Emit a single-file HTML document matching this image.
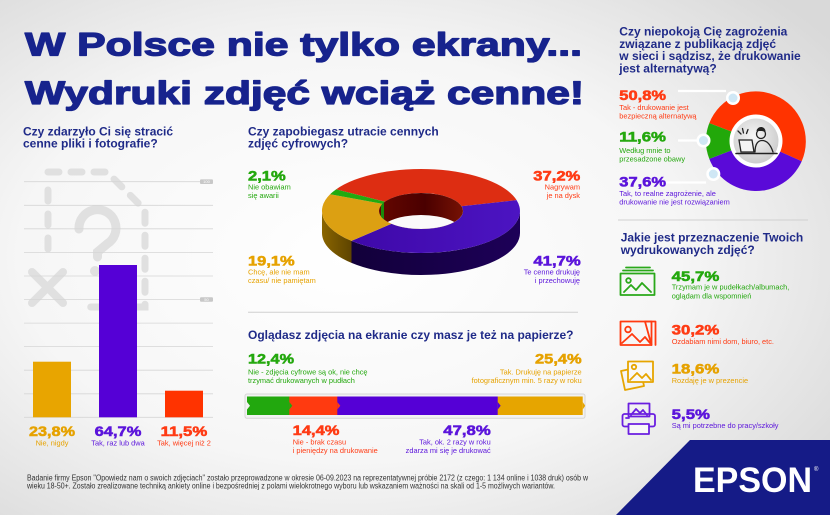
<!DOCTYPE html>
<html><head><meta charset="utf-8"><style>
html,body{margin:0;padding:0;background:#f4f4f4;}
svg{display:block;}
text{font-family:"Liberation Sans",Arial,sans-serif;}
.q{font-size:12px;font-weight:bold;fill:#1f2a88;}
.p{font-size:14px;font-weight:bold;stroke-width:0.55;}
.s{font-size:7.4px;}
.g{fill:#24a80e;stroke:#24a80e;}
.r{fill:#ff3b14;stroke:#ff3b14;}
.y{fill:#e6a200;stroke:#e6a200;}
.v{fill:#5b14db;stroke:#5b14db;}
.gs{fill:#24a80e;} .rs{fill:#ff3b14;} .ys{fill:#e6a200;} .vs{fill:#5b14db;}
</style></head><body>
<svg width="830" height="515" viewBox="0 0 830 515" xmlns="http://www.w3.org/2000/svg">
<defs>
<radialGradient id="bg" cx="0.42" cy="0.5" r="0.72">
<stop offset="0" stop-color="#ffffff"/><stop offset="0.55" stop-color="#f6f6f6"/><stop offset="1" stop-color="#d9d9d9"/>
</radialGradient>
<linearGradient id="pside" x1="0" y1="0" x2="1" y2="0"><stop offset="0" stop-color="#12003a"/><stop offset="1" stop-color="#1d0058"/></linearGradient>
<linearGradient id="yside" x1="0" y1="0" x2="1" y2="0"><stop offset="0" stop-color="#8a6500"/><stop offset="1" stop-color="#5e4400"/></linearGradient>
<linearGradient id="ptop" x1="0" y1="0" x2="1" y2="0"><stop offset="0" stop-color="#3e08a8"/><stop offset="1" stop-color="#4c14c2"/></linearGradient>
<linearGradient id="wall" x1="0" y1="0" x2="1" y2="0"><stop offset="0" stop-color="#6a0800"/><stop offset="0.5" stop-color="#4a0000"/><stop offset="1" stop-color="#8a1a06"/></linearGradient>
<radialGradient id="grayg" cx="0.45" cy="0.4" r="0.6"><stop offset="0" stop-color="#f6f6f6"/><stop offset="1" stop-color="#cdcdcd"/></radialGradient>
<clipPath id="hole"><ellipse cx="421" cy="211" rx="42" ry="18"/></clipPath>
</defs>
<rect width="830" height="515" fill="url(#bg)"/>

<!-- Title -->
<text x="25" y="55.5" font-size="32" font-weight="bold" fill="#17238d" stroke="#17238d" stroke-width="1.3" stroke-linejoin="round" textLength="557" lengthAdjust="spacingAndGlyphs">W Polsce nie tylko ekrany...</text>
<text x="25" y="104" font-size="32" font-weight="bold" fill="#17238d" stroke="#17238d" stroke-width="1.3" stroke-linejoin="round" textLength="559" lengthAdjust="spacingAndGlyphs">Wydruki zdjęć wciąż cenne!</text>

<!-- LEFT: bar chart -->
<text class="q" x="23" y="135.5">Czy zdarzyło Ci się stracić</text>
<text class="q" x="23" y="147.5">cenne pliki i fotografie?</text>
<g fill="none" stroke="#e0e0e0" stroke-width="7" stroke-linecap="round">
<path d="M48,172 L107,172 L145,210 L145,307 L88,307" stroke-dasharray="11 12"/>
<path d="M48,190 L48,258" stroke-dasharray="11 13"/>
<path d="M32,272 L63,303 M63,272 L32,303" stroke-width="8"/>
<path d="M79,229 A18.5 18.5 0 1 1 107,244 L97.5,252 L97.5,257" stroke-width="9"/>
</g>
<circle cx="95" cy="271" r="5" fill="#e0e0e0"/>
<g stroke="#d6d6d6" stroke-width="0.8">
<line x1="24" y1="181.7" x2="213" y2="181.7"/><line x1="24" y1="205.3" x2="213" y2="205.3"/>
<line x1="24" y1="228.8" x2="213" y2="228.8"/><line x1="24" y1="252.4" x2="213" y2="252.4"/>
<line x1="24" y1="276" x2="213" y2="276"/><line x1="24" y1="299.5" x2="213" y2="299.5"/>
<line x1="24" y1="323.1" x2="213" y2="323.1"/><line x1="24" y1="346.6" x2="213" y2="346.6"/>
<line x1="24" y1="370.2" x2="213" y2="370.2"/><line x1="24" y1="393.8" x2="213" y2="393.8"/>
<line x1="24" y1="417.3" x2="213" y2="417.3"/>
</g>
<rect x="200" y="179.4" width="13" height="4.6" rx="1" fill="#c8c8c8"/>
<text x="206.5" y="183.1" font-size="4" fill="#fff" text-anchor="middle">100</text>
<rect x="200" y="297.2" width="13" height="4.6" rx="1" fill="#c8c8c8"/>
<text x="206.5" y="300.9" font-size="4" fill="#fff" text-anchor="middle">50</text>
<rect x="33" y="361.7" width="38" height="55.6" fill="#e8a500"/>
<rect x="99" y="265" width="38" height="152.3" fill="#5500d6"/>
<rect x="165" y="390.7" width="38" height="26.6" fill="#ff3300"/>
<text class="p y" x="52" y="436" text-anchor="middle" textLength="46" lengthAdjust="spacingAndGlyphs">23,8%</text>
<text class="p v" x="118" y="436" text-anchor="middle" textLength="46.7" lengthAdjust="spacingAndGlyphs">64,7%</text>
<text class="p r" x="184" y="436" text-anchor="middle" textLength="46.6" lengthAdjust="spacingAndGlyphs">11,5%</text>
<text class="s ys" x="52" y="445.5" text-anchor="middle">Nie, nigdy</text>
<text class="s vs" x="118" y="445.5" text-anchor="middle">Tak, raz lub dwa</text>
<text class="s rs" x="184" y="445.5" text-anchor="middle">Tak, więcej niż 2</text>

<!-- MIDDLE: donut -->
<text class="q" x="248" y="135.5">Czy zapobiegasz utracie cennych</text>
<text class="q" x="248" y="147.5">zdjęć cyfrowych?</text>
<path d="M520,211 A99 42 0 0 1 351.5,240.9 L351.5,262.9 A99 42 0 0 0 520,233 Z" fill="url(#pside)"/>
<path d="M351.5,240.9 A99 42 0 0 1 322,211 L322,233 A99 42 0 0 0 351.5,262.9 Z" fill="url(#yside)"/>
<path d="M336.1,189.4 A99 42 0 0 1 516.6,200.1 L461.6,206.3 A42 18 0 0 0 385,201.7 Z" fill="#dd2d12"/>
<path d="M516.6,200.1 A99 42 0 0 1 351.5,240.9 L391.5,223.8 A42 18 0 0 0 461.6,206.3 Z" fill="url(#ptop)"/>
<path d="M351.5,240.9 A99 42 0 0 1 330.1,194.3 L382.5,203.9 A42 18 0 0 0 391.5,223.8 Z" fill="#dca012"/>
<path d="M330.1,194.3 A99 42 0 0 1 336.1,189.4 L385,201.7 A42 18 0 0 0 382.5,203.9 Z" fill="#22aa10"/>
<g clip-path="url(#hole)">
<rect x="370" y="185" width="110" height="50" fill="url(#wall)"/>
<rect x="381" y="198" width="3" height="28" fill="#1a8a0a"/>
<ellipse cx="421" cy="233" rx="42" ry="18" fill="#fafafa"/>
</g>
<text class="p g" x="248" y="180.7" textLength="37.7" lengthAdjust="spacingAndGlyphs">2,1%</text>
<text class="s gs" x="248" y="189.5">Nie obawiam</text>
<text class="s gs" x="248" y="198">się awarii</text>
<text class="p r" x="580.3" y="180.7" text-anchor="end" textLength="47" lengthAdjust="spacingAndGlyphs">37,2%</text>
<text class="s rs" x="580" y="189.5" text-anchor="end">Nagrywam</text>
<text class="s rs" x="580" y="198" text-anchor="end">je na dysk</text>
<text class="p y" x="248" y="265.7" textLength="46.7" lengthAdjust="spacingAndGlyphs">19,1%</text>
<text class="s ys" x="248" y="274.5">Chcę, ale nie mam</text>
<text class="s ys" x="248" y="283">czasu/ nie pamiętam</text>
<text class="p v" x="580.7" y="265.7" text-anchor="end" textLength="47.3" lengthAdjust="spacingAndGlyphs">41,7%</text>
<text class="s vs" x="580" y="274.5" text-anchor="end">Te cenne drukuję</text>
<text class="s vs" x="580" y="283" text-anchor="end">i przechowuję</text>
<line x1="248" y1="312.3" x2="578" y2="312.3" stroke="#d0d0d0" stroke-width="1"/>

<!-- MIDDLE: stacked bar -->
<text class="q" x="248" y="339">Oglądasz zdjęcia na ekranie czy masz je też na papierze?</text>
<text class="p g" x="248" y="363.3" textLength="46" lengthAdjust="spacingAndGlyphs">12,4%</text>
<text class="s gs" x="248" y="374.5">Nie - zdjęcia cyfrowe są ok, nie chcę</text>
<text class="s gs" x="248" y="383">trzymać drukowanych w pudłach</text>
<text class="p y" x="581.7" y="363.3" text-anchor="end" textLength="46.7" lengthAdjust="spacingAndGlyphs">25,4%</text>
<text class="s ys" x="581.7" y="374.5" text-anchor="end">Tak. Drukuję na papierze</text>
<text class="s ys" x="581.7" y="383" text-anchor="end">fotograficznym min. 5 razy w roku</text>
<rect x="245" y="394" width="340" height="24.3" rx="2" fill="#f2f2f2" stroke="#d6d6d6" stroke-width="1"/>
<rect x="247" y="396.5" width="43" height="18.5" fill="#22a80e"/>
<rect x="289.3" y="396.5" width="48.5" height="18.5" fill="#ff3a10"/>
<rect x="337.3" y="396.5" width="160.9" height="18.5" fill="#5500d6"/>
<rect x="497.7" y="396.5" width="85" height="18.5" fill="#e6a500"/>
<path d="M289.3,402 L292.3,405.7 L289.3,409.5 Z" fill="#22a80e"/>
<path d="M337.3,402 L340.3,405.7 L337.3,409.5 Z" fill="#ff3a10"/>
<path d="M497.7,402 L500.7,405.7 L497.7,409.5 Z" fill="#5500d6"/>
<path d="M247,402 L250,405.7 L247,409.5 Z" fill="#f2f2f2"/>
<path d="M582.7,402 L585.2,405.7 L582.7,409.5 Z" fill="#e6a500"/>
<text class="p r" x="292.7" y="435" textLength="46.7" lengthAdjust="spacingAndGlyphs">14,4%</text>
<text class="s rs" x="292.7" y="444.5">Nie - brak czasu</text>
<text class="s rs" x="292.7" y="453">i pieniędzy na drukowanie</text>
<text class="p v" x="490.7" y="435" text-anchor="end" textLength="47.4" lengthAdjust="spacingAndGlyphs">47,8%</text>
<text class="s vs" x="490.7" y="444.5" text-anchor="end">Tak, ok. 2 razy w roku</text>
<text class="s vs" x="490.7" y="453" text-anchor="end">zdarza mi się je drukować</text>

<!-- RIGHT TOP -->
<text class="q" x="619.3" y="35.5">Czy niepokoją Cię zagrożenia</text>
<text class="q" x="619.3" y="47.8">związane z publikacją zdjęć</text>
<text class="q" x="619.3" y="60.1">w sieci i sądzisz, że drukowanie</text>
<text class="q" x="619.3" y="72.4">jest alternatywą?</text>
<path d="M756,141 L709.3,123.1 A50 50 0 1 1 801.7,161.3 Z" fill="#ff3300"/>
<path d="M756,141 L801.7,161.3 A50 50 0 0 1 709.3,158.9 Z" fill="#5a0ad8"/>
<path d="M756,141 L709.3,158.9 A50 50 0 0 1 709.3,123.1 Z" fill="#22a80a"/>
<circle cx="756" cy="141" r="26.5" fill="#ffffff"/>
<circle cx="756" cy="141" r="22.5" fill="url(#grayg)"/>
<g fill="none" stroke="#222" stroke-width="1.3" stroke-linecap="round">
<path d="M739,140 L752,140 L754,152 L741,152 Z" fill="#f4f4f4"/>
<path d="M736,153.5 L777,153.5" stroke-width="1.6"/>
<circle cx="761" cy="134" r="4.5"/>
<path d="M755,152 C755,144 758,140.5 762,140.5 C768,140.5 771,146 773,152"/>
<path d="M738,131 L741,134 M742.5,128.5 L743.5,133 M748,129.5 L746.5,133.5"/>
</g>
<path d="M756.5,131 A4.5 4.5 0 0 1 765.5,132 L762,131 Z" fill="#222"/>
<g stroke="#ffffff" stroke-width="2.2" fill="none">
<path d="M678,91 L726,91"/>
<path d="M678,140.5 L697,140.5"/>
<path d="M666,182.5 L706,182.5"/>
</g>
<circle cx="733" cy="98" r="7" fill="#ffffff"/><circle cx="733" cy="98" r="4.5" fill="#cfe7f5"/>
<circle cx="703.5" cy="140.5" r="7" fill="#ffffff"/><circle cx="703.5" cy="140.5" r="4.5" fill="#cfe7f5"/>
<circle cx="713.3" cy="174" r="7" fill="#ffffff"/><circle cx="713.3" cy="174" r="4.5" fill="#cfe7f5"/>
<text class="p r" x="619.3" y="100" textLength="46.7" lengthAdjust="spacingAndGlyphs">50,8%</text>
<text class="s rs" x="619.3" y="110">Tak - drukowanie jest</text>
<text class="s rs" x="619.3" y="118.5">bezpieczną alternatywą</text>
<text class="p g" x="619.3" y="141.7" textLength="46.7" lengthAdjust="spacingAndGlyphs">11,6%</text>
<text class="s gs" x="619.3" y="153">Według mnie to</text>
<text class="s gs" x="619.3" y="161.5">przesadzone obawy</text>
<text class="p v" x="619.3" y="186.7" textLength="46.7" lengthAdjust="spacingAndGlyphs">37,6%</text>
<text class="s vs" x="619.3" y="196">Tak, to realne zagrożenie, ale</text>
<text class="s vs" x="619.3" y="204.5">drukowanie nie jest rozwiązaniem</text>

<!-- RIGHT BOTTOM -->
<line x1="618" y1="220" x2="808" y2="220" stroke="#d0d0d0" stroke-width="1"/>
<text class="q" x="620.7" y="241.5">Jakie jest przeznaczenie Twoich</text>
<text class="q" x="620.7" y="254">wydrukowanych zdjęć?</text>
<g fill="none" stroke-width="1.8" stroke-linejoin="round" stroke-linecap="round">
<g stroke="#2aa81a">
<path d="M626,267.5 L650,267.5 M623,270.5 L653,270.5"/>
<rect x="620.5" y="273.5" width="34" height="21.5"/>
<circle cx="628.5" cy="280.5" r="2.3"/>
<path d="M624,292 L631,285 L636,290 L642,283 L651,292"/>
</g>
<g stroke="#ff3a10">
<rect x="620.5" y="321.5" width="31" height="23.5"/>
<path d="M645,321.5 L655.5,321.5 L655.5,345 M645,321.5 L651.5,345"/>
<circle cx="628" cy="329.5" r="2.8"/>
<path d="M622,343 L632,334 L640,342 L645,337 L650,343"/>
</g>
<g stroke="#e6a500">
<path d="M621,371 L640,367 L644,386 L625,390 Z"/>
<rect x="628" y="361.5" width="25" height="20.5" fill="#f8f8f8"/>
<circle cx="634" cy="367" r="2.2"/>
<path d="M630,380 L637,373 L642,378 L646,374 L651,380"/>
</g>
<g stroke="#6a1ee0">
<rect x="628.5" y="403.5" width="21" height="13"/>
<path d="M631,415 L636,409 L640,413 L643,410 L647,415"/>
<rect x="622.5" y="414" width="32.5" height="12.5" rx="2"/>
<rect x="628.5" y="424" width="20.5" height="10" fill="#f8f8f8"/>
<path d="M626,418 L629,418"/>
</g>
</g>
<text class="p g" x="671.7" y="281" textLength="47.6" lengthAdjust="spacingAndGlyphs">45,7%</text>
<text class="s gs" x="671.7" y="289.5">Trzymam je w pudełkach/albumach,</text>
<text class="s gs" x="671.7" y="298.5">oglądam dla wspomnień</text>
<text class="p r" x="671.7" y="334.3" textLength="47.6" lengthAdjust="spacingAndGlyphs">30,2%</text>
<text class="s rs" x="671.7" y="344">Ozdabiam nimi dom, biuro, etc.</text>
<text class="p y" x="671.7" y="373.3" textLength="47.6" lengthAdjust="spacingAndGlyphs">18,6%</text>
<text class="s ys" x="671.7" y="383">Rozdaję je w prezencie</text>
<text class="p v" x="671.7" y="419" textLength="38.3" lengthAdjust="spacingAndGlyphs">5,5%</text>
<text class="s vs" x="671.7" y="428">Są mi potrzebne do pracy/szkoły</text>

<!-- EPSON -->
<polygon points="690,440 830,440 830,515 616,515" fill="#151b87"/>
<text x="693" y="492" font-size="35" font-weight="bold" fill="#ffffff" textLength="119" lengthAdjust="spacingAndGlyphs">EPSON</text>
<text x="814" y="471" font-size="6" fill="#ffffff">®</text>

<!-- Footer -->
<text x="27" y="480.3" font-size="8" fill="#333" textLength="561" lengthAdjust="spacingAndGlyphs">Badanie firmy Epson "Opowiedz nam o swoich zdjęciach" zostało przeprowadzone w okresie 06-09.2023 na reprezentatywnej próbie 2172 (z czego: 1 134 online i 1038 druk) osób w</text>
<text x="27" y="488.5" font-size="8" fill="#333" textLength="528" lengthAdjust="spacingAndGlyphs">wieku 18-50+. Zostało zrealizowane techniką ankiety online i bezpośredniej z polami wielokrotnego wyboru lub wskazaniem ważności na skali od 1-5 możliwych wariantów.</text>
</svg>
</body></html>
